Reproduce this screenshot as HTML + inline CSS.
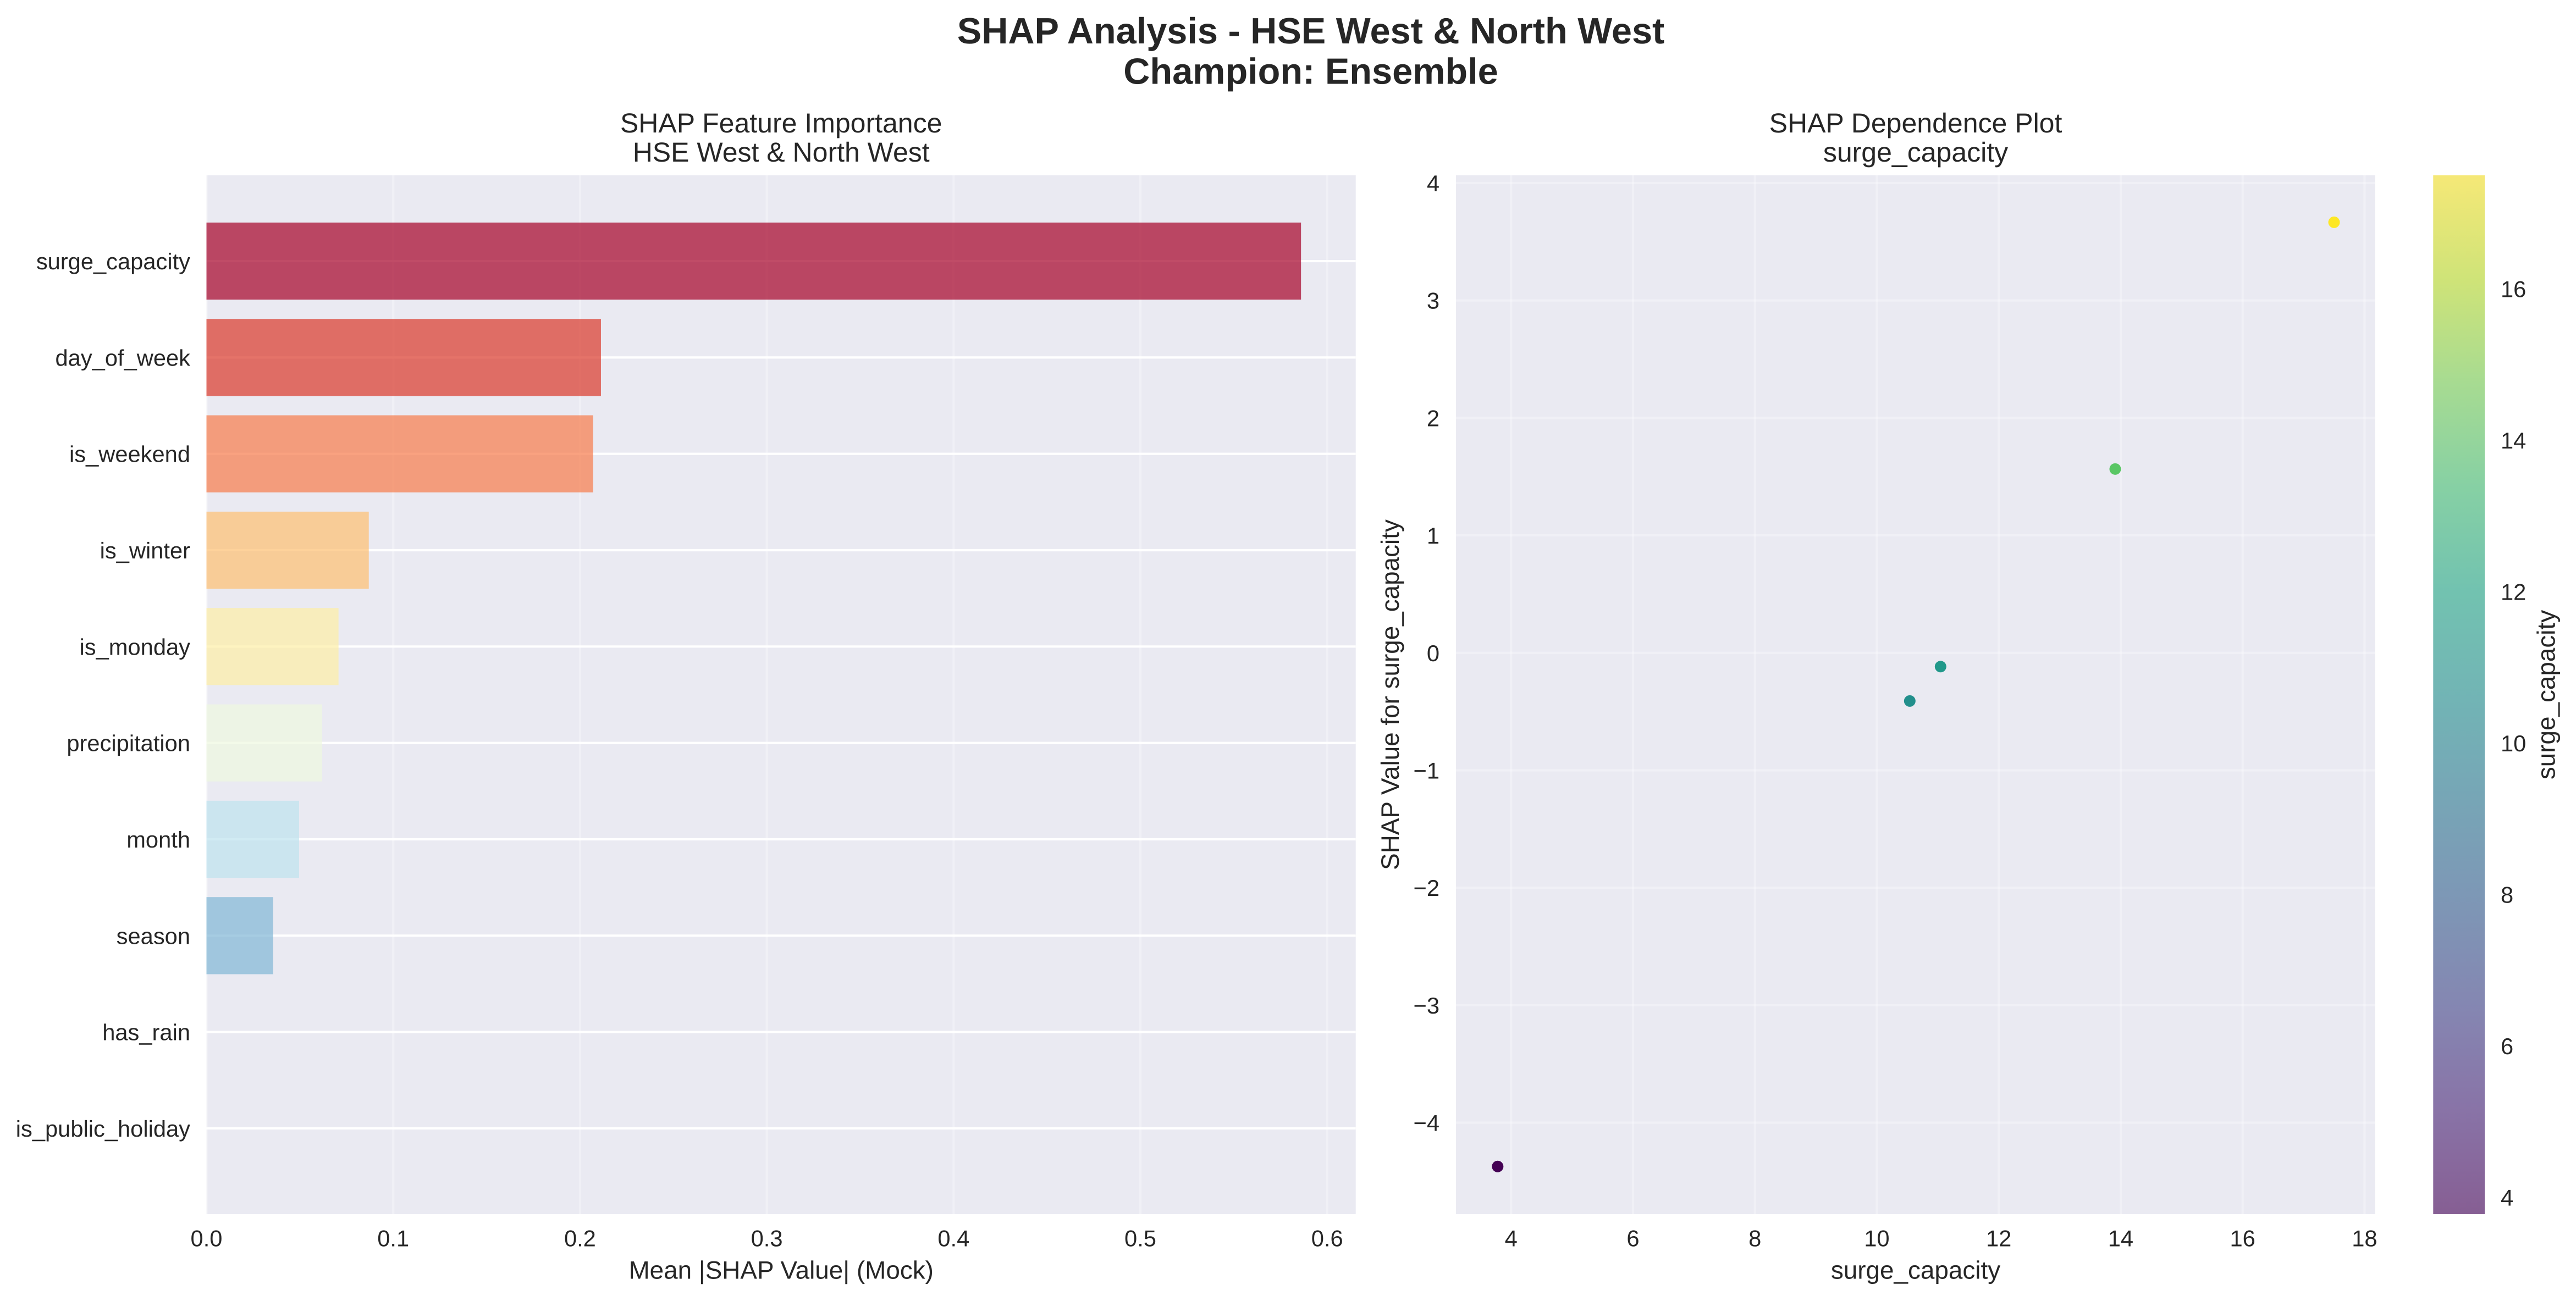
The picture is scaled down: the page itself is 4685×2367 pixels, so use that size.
<!DOCTYPE html>
<html lang="en">
<head>
<meta charset="utf-8">
<title>SHAP Analysis - HSE West &amp; North West</title>
<style>
html,body{margin:0;padding:0;background:#fff;width:4685px;height:2367px;overflow:hidden}
svg{display:block}
text{font-family:"Liberation Sans",Arial,sans-serif;fill:#262626;text-rendering:geometricPrecision}
.tick{font-size:41.67px}
.label{font-size:45.83px}
.title{font-size:50px}
.sup{font-size:66.67px;font-weight:bold}
</style>
</head>
<body>
<svg id="figure" xmlns="http://www.w3.org/2000/svg" width="4685" height="2367" viewBox="0 0 4685 2367">
  <defs>
    <linearGradient id="cbGrad" x1="0" y1="1" x2="0" y2="0"></linearGradient>
    <clipPath id="leftClip"><rect x="375.5" y="319" width="2090.2" height="1890"></rect></clipPath>
    <clipPath id="rightClip"><rect x="2648" y="319" width="1671.6" height="1890"></rect></clipPath>
  </defs>
  <rect x="0" y="0" width="4685" height="2367" fill="#ffffff"></rect>
  <text class="sup" x="2384" y="79" text-anchor="middle">SHAP Analysis - HSE West &amp; North West</text>
  <text class="sup" x="2384" y="152.3" text-anchor="middle">Champion: Ensemble</text>
  <text class="title" x="1420.7" y="241" text-anchor="middle">SHAP Feature Importance</text>
  <text class="title" x="1420.7" y="294" text-anchor="middle">HSE West &amp; North West</text>
  <text class="title" x="3484" y="241" text-anchor="middle">SHAP Dependence Plot</text>
  <text class="title" x="3484" y="294" text-anchor="middle">surge_capacity</text>
  <rect x="375.5" y="319" width="2090.2" height="1890" fill="#eaeaf2"></rect>
  <rect x="2648" y="319" width="1671.6" height="1890" fill="#eaeaf2"></rect>
  <g id="leftGrid" clip-path="url(#leftClip)"></g>
  <g id="bars"></g>
  <g id="leftTicks"></g>
  <text class="label" x="1420.7" y="2326.6" text-anchor="middle">Mean |SHAP Value| (Mock)</text>
  <g id="rightGrid" clip-path="url(#rightClip)"></g>
  <g id="points"></g>
  <g id="rightTicks"></g>
  <text class="label" x="3484" y="2326.6" text-anchor="middle">surge_capacity</text>
  <text class="label" transform="translate(2544 1264) rotate(-90)" text-anchor="middle">SHAP Value for surge_capacity</text>
  <rect x="4425.3" y="319" width="93.7" height="1890" fill="#eaeaf2"></rect>
  <rect x="4425.3" y="319" width="93.7" height="1890" fill="url(#cbGrad)" opacity="0.6"></rect>
  <g id="cbTicks"></g>
  <text class="label" transform="translate(4646.5 1264) rotate(-90)" text-anchor="middle">surge_capacity</text>
</svg>
<script>
// ---- chart data ----
const features = ["surge_capacity","day_of_week","is_weekend","is_winter","is_monday","precipitation","month","season","has_rain","is_public_holiday"];
const importance = [0.586,0.2112,0.207,0.0869,0.0707,0.0619,0.0496,0.0357,0,0];
const importanceTicks = [0,0.1,0.2,0.3,0.4,0.5,0.6];
const surgeCapacity = [3.78,10.54,11.045,13.91,17.5];
const shapValues = [-4.373,-0.41,-0.117,1.565,3.666];
const depXTicks = [4,6,8,10,12,14,16,18];
const depYTicks = [-4,-3,-2,-1,0,1,2,3,4];
const cbTickValues = [4,6,8,10,12,14,16];

// ---- helpers & scales ----
const NS = "http://www.w3.org/2000/svg";
function mk(parent, tag, attrs, txt){
  const e = document.createElementNS(NS, tag);
  for (const k in attrs) e.setAttribute(k, attrs[k]);
  if (txt !== undefined) e.textContent = txt;
  document.getElementById(parent).appendChild(e);
  return e;
}
function lerpRamp(ramp, t){
  t = Math.max(0, Math.min(1, t));
  const p = t * (ramp.length - 1), i = Math.min(Math.floor(p), ramp.length - 2), f = p - i;
  const c = [0,1,2].map(j => Math.round(ramp[i][j] + (ramp[i+1][j] - ramp[i][j]) * f));
  return "rgb(" + c.join(",") + ")";
}
const VIRIDIS = [[68,1,84],[72,36,117],[65,68,135],[53,95,141],[42,120,142],[33,145,140],[34,168,132],[68,191,112],[122,209,81],[189,223,38],[253,231,37]];
const RDYLBU = [[165,0,38],[215,48,39],[244,109,67],[253,174,97],[254,224,144],[255,255,191],[224,243,248],[171,217,233],[116,173,209],[69,117,180],[49,54,149]];

const L = {left:375.5, right:2465.7, top:319, bottom:2209, xMax:0.6153};
const R = {left:2648, right:4319.6, top:319, bottom:2209, xMin:3.096, xMax:18.173, yMin:-4.779, yMax:4.0655};
const CB = {top:319, bottom:2209, vMin:3.78, vMax:17.5};

function xImp(v){ return L.left + (v / L.xMax) * (L.right - L.left); }
function yRow(i){ return L.top + (i + 0.89) * (L.bottom - L.top) / 10.78; }
const rowH = (L.bottom - L.top) / 10.78;
function xDep(v){ return R.left + (v - R.xMin) / (R.xMax - R.xMin) * (R.right - R.left); }
function yDep(v){ return R.top + (R.yMax - v) / (R.yMax - R.yMin) * (R.bottom - R.top); }
function yCb(v){ return CB.bottom - (v - CB.vMin) / (CB.vMax - CB.vMin) * (CB.bottom - CB.top); }
function cNorm(v){ return (v - CB.vMin) / (CB.vMax - CB.vMin); }

const GRID_W = 4.17;
const SOFT = "rgba(255,255,255,0.3)";

// ---- importance chart ----
importanceTicks.forEach(function(t){
  const x = xImp(t);
  const line = mk("leftGrid","line",{x1:x,x2:x,y1:L.top,y2:L.bottom,stroke:SOFT,"stroke-width":GRID_W});
  
  
  const lab = mk("leftTicks","text",{class:"tick",x:x,y:2267.7,"text-anchor":"middle"},t.toFixed(1));
  
  
});
features.forEach(function(name,i){
  const y = yRow(i);
  const line = mk("leftGrid","line",{x1:L.left,x2:L.right,y1:y,y2:y,stroke:"#ffffff","stroke-width":GRID_W});
  
  
  const lab = mk("leftTicks","text",{class:"tick",x:346,y:y+15,"text-anchor":"end"},name);
  
  
  const bar = mk("bars","rect",{x:L.left,y:y-0.4*rowH,width:xImp(importance[i])-L.left,height:0.8*rowH,fill:lerpRamp(RDYLBU,i/(features.length-1)),"fill-opacity":0.7});
  
  
});

// ---- dependence chart ----
depXTicks.forEach(function(t){
  const x = xDep(t);
  const line = mk("rightGrid","line",{x1:x,x2:x,y1:R.top,y2:R.bottom,stroke:SOFT,"stroke-width":GRID_W});
  
  
  const lab = mk("rightTicks","text",{class:"tick",x:x,y:2267.7,"text-anchor":"middle"},String(t));
  
  
});
depYTicks.forEach(function(t){
  const y = yDep(t);
  const line = mk("rightGrid","line",{x1:R.left,x2:R.right,y1:y,y2:y,stroke:SOFT,"stroke-width":GRID_W});
  
  
  const lab = mk("rightTicks","text",{class:"tick",x:2618,y:y+15,"text-anchor":"end"},String(t).replace("-","\u2212"));
  
  
});
surgeCapacity.forEach(function(v,i){
  const dot = mk("points","circle",{cx:xDep(v),cy:yDep(shapValues[i]),r:10.5,fill:lerpRamp(VIRIDIS,cNorm(v))});
  
  
});

// ---- colorbar ----
VIRIDIS.forEach(function(c,i){
  mk("cbGrad","stop",{offset:i/(VIRIDIS.length-1),"stop-color":"rgb("+c.join(",")+")"});
});
cbTickValues.forEach(function(t){
  const lab = mk("cbTicks","text",{class:"tick",x:4548,y:yCb(t)+15,"text-anchor":"start"},String(t));
  
  
});
</script>
</body>
</html>
